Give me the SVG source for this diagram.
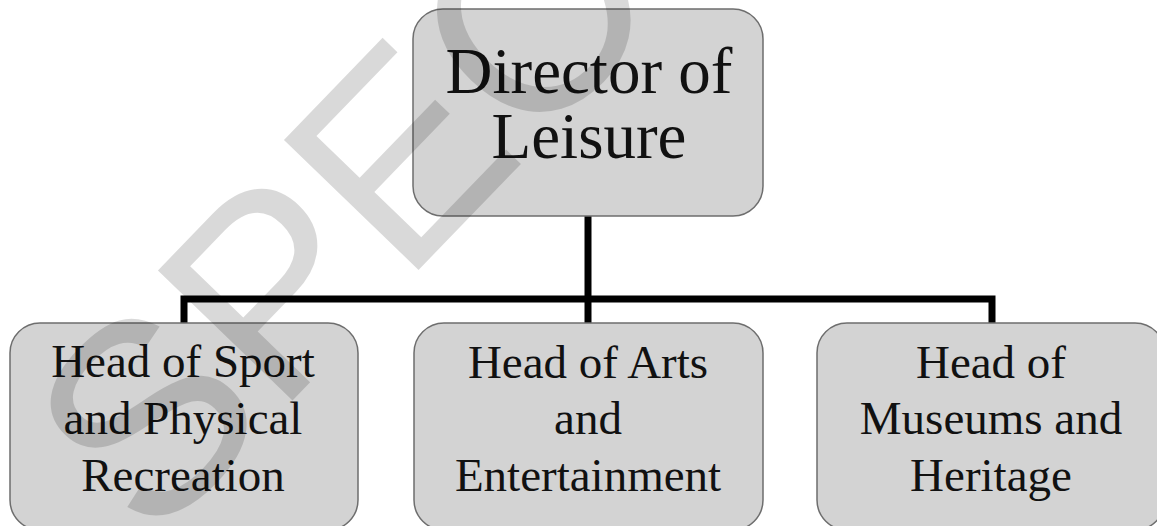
<svg xmlns="http://www.w3.org/2000/svg" width="1157" height="526" viewBox="0 0 1157 526">
  <style>
    .box { fill: #d3d3d3; stroke: #6e6e6e; stroke-width: 1.5; }
    .lbl { font-family: "Liberation Serif", "Times New Roman", serif; fill: #111; text-anchor: middle; }
    .top { font-size: 65px; }
    .sub { font-size: 47px; }
    .link { fill: none; stroke: #000; stroke-width: 7; stroke-linejoin: miter; stroke-linecap: butt; }
    .mark { font-family: "Liberation Sans", Arial, sans-serif; font-size: 272px; fill: #000; fill-opacity: 0.15; }
  </style>
  <rect width="1157" height="526" fill="#fff"/>

  <g id="connectors">
    <path class="link" d="M588 216 V299"/>
    <path class="link" d="M184 323 V299 H992 V323"/>
    <path class="link" d="M588 299 V323"/>
  </g>

  <g id="director">
    <rect class="box" x="413" y="9" width="350" height="207" rx="30" ry="30"/>
    <text class="lbl top" x="589" y="93">Director of</text>
    <text class="lbl top" x="589" y="158">Leisure</text>
  </g>

  <g id="sport">
    <rect class="box" x="10" y="323" width="348" height="207" rx="30" ry="30"/>
    <text class="lbl sub" x="183" y="377">Head of Sport</text>
    <text class="lbl sub" x="183" y="434">and Physical</text>
    <text class="lbl sub" x="183" y="491">Recreation</text>
  </g>

  <g id="arts">
    <rect class="box" x="414" y="323" width="349" height="207" rx="30" ry="30"/>
    <text class="lbl sub" x="588" y="378">Head of Arts</text>
    <text class="lbl sub" x="588" y="434">and</text>
    <text class="lbl sub" x="588" y="491">Entertainment</text>
  </g>

  <g id="museums">
    <rect class="box" x="817" y="323" width="348" height="207" rx="30" ry="30"/>
    <text class="lbl sub" x="991" y="378">Head of</text>
    <text class="lbl sub" x="991" y="434">Museums and</text>
    <text class="lbl sub" x="991" y="491">Heritage</text>
  </g>

  <!-- diagonal watermark -->
  <text class="mark" transform="translate(151 547) rotate(-46)">SPEC</text>
</svg>
